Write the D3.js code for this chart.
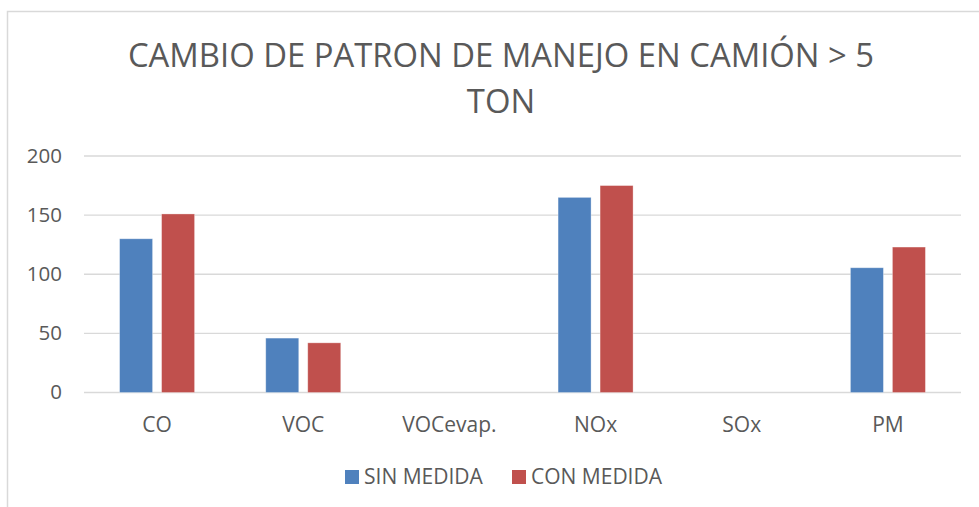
<!DOCTYPE html>
<html>
<head>
<meta charset="utf-8">
<script src="https://cdn.jsdelivr.net/npm/d3@7"></script>
<style>
  body { margin: 0; background: #fff; }
  text { font-family: "Open Sans", "Noto Sans", sans-serif; fill: #595959; }
</style>
</head>
<body>
<svg id="chart" width="979" height="507"></svg>
<script>
var categories = ["CO", "VOC", "VOCevap.", "NOx", "SOx", "PM"],
    seriesNames = ["SIN MEDIDA", "CON MEDIDA"],
    sinMedida = [130, 46, 0, 165, 0, 105.5],
    conMedida = [151, 42, 0, 175, 0, 123],
    yTicks = [0, 50, 100, 150, 200],
    titleLines = ["CAMBIO DE PATRON DE MANEJO EN CAMIÓN > 5", "TON"];

var colors = ["#4f81bd", "#c0504d"];
var series = [sinMedida, conMedida];

var svg = d3.select("#chart"),
    margin = {left: 84, right: 18, top: 156, bottom: 114.5},
    width = 979,
    height = 507;

// chart frame (runs off the window on the right/bottom)
svg.append("rect")
    .attr("x", 7.5).attr("y", 11.5)
    .attr("width", 990).attr("height", 520)
    .attr("fill", "none").attr("stroke", "#d9d9d9").attr("stroke-width", 1.5);

var x = d3.scaleBand()
    .domain(categories)
    .range([margin.left, width - margin.right]);

var y = d3.scaleLinear()
    .domain([0, 200])
    .range([height - margin.bottom, margin.top]);

// gridlines
svg.append("g").selectAll("line").data(yTicks)
  .enter().append("line")
    .attr("x1", margin.left).attr("x2", width - margin.right)
    .attr("y1", function(d) { return y(d); })
    .attr("y2", function(d) { return y(d); })
    .attr("stroke", "#d9d9d9").attr("stroke-width", 1.3);

// y labels
svg.append("g").selectAll("text").data(yTicks)
  .enter().append("text")
    .attr("x", 62).attr("y", function(d) { return y(d); })
    .attr("dy", "0.33em")
    .attr("text-anchor", "end")
    .style("font-size", "20.5px")
    .text(function(d) { return d; });

// bars
var barW = 33, gap = 9;
series.forEach(function(vals, s) {
  svg.append("g").selectAll("rect").data(vals)
    .enter().append("rect")
      .attr("x", function(d, i) {
        var c = x(categories[i]) + x.bandwidth() / 2;
        return s === 0 ? c - gap / 2 - barW : c + gap / 2;
      })
      .attr("y", function(d) { return y(d); })
      .attr("width", barW)
      .attr("height", function(d) { return y(0) - y(d); })
      .attr("fill", colors[s])
      .attr("stroke", "#fff").attr("stroke-opacity", 0.4).attr("stroke-width", 0.8);
});

// category labels
svg.append("g").selectAll("text").data(categories)
  .enter().append("text")
    .attr("x", function(d) { return x(d) + x.bandwidth() / 2; })
    .attr("y", 431.5)
    .attr("text-anchor", "middle")
    .style("font-size", "21px")
    .text(function(d) { return d; });

// title
svg.append("g").selectAll("text").data(titleLines)
  .enter().append("text")
    .attr("x", 501)
    .attr("y", function(d, i) { return 67 + i * 45.5; })
    .attr("text-anchor", "middle")
    .style("font-size", "32.8px")
    .text(function(d) { return d; });

// legend
var legendX = [345, 512];
var legend = svg.append("g").selectAll("g").data(seriesNames)
  .enter().append("g")
    .attr("transform", function(d, i) { return "translate(" + legendX[i] + ",470)"; });
legend.append("rect")
    .attr("width", 14).attr("height", 14)
    .attr("fill", function(d, i) { return colors[i]; });
legend.append("text")
    .attr("x", 19).attr("y", 7).attr("dy", "0.35em")
    .style("font-size", "21px")
    .text(function(d) { return d; });
</script>
</body>
</html>
